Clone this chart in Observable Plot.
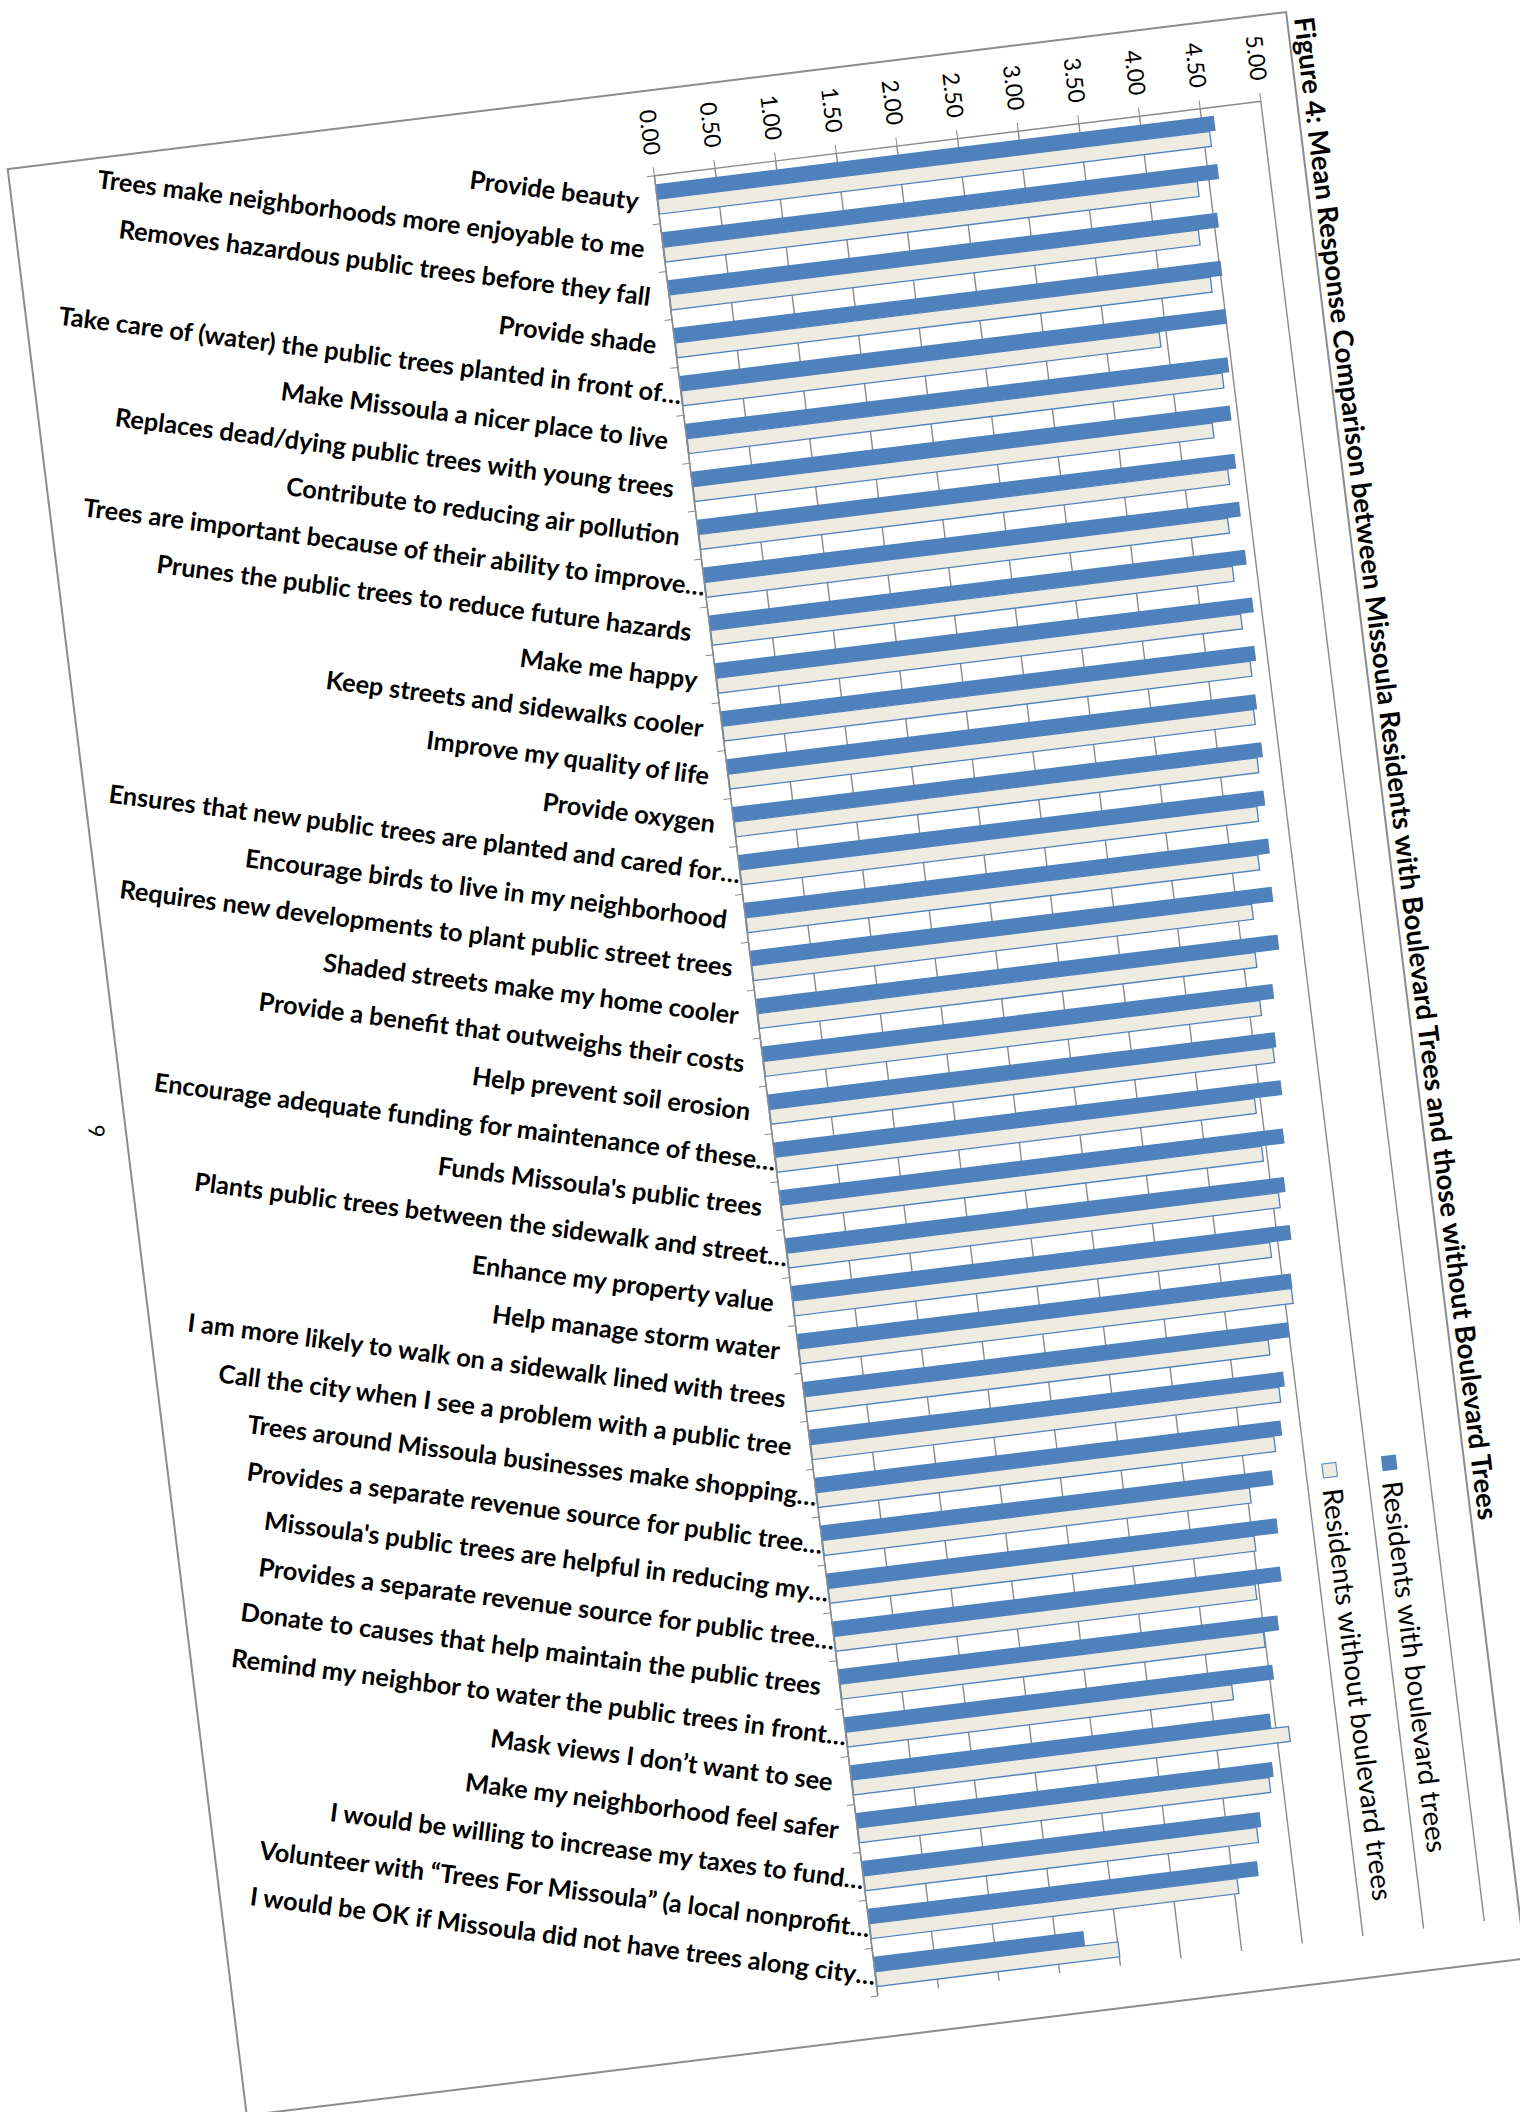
<!DOCTYPE html>
<html>
<head>
<meta charset="utf-8">
<script src="https://cdn.jsdelivr.net/npm/d3@7"></script>
<script src="https://cdn.jsdelivr.net/npm/@observablehq/plot@0.6"></script>
<style>
  html, body { margin: 0; padding: 0; width: 1520px; height: 2112px; overflow: hidden; background: #fff; }
  /* The printed page is set sideways, so the whole chart is laid out as a
     column chart and turned onto the sheet. */
  #page { position: absolute; left: 0; top: 0; width: 1963px; height: 1290px;
          transform-origin: 0 0; transform: translate(1287px, 11px) rotate(83deg); }
  #chart { position: absolute; left: 0; top: 0; }
  #frame { position: absolute; left: 0; top: 0; width: 1963px; height: 1290px;
           box-sizing: border-box; border: 2px solid #8c8c8c; pointer-events: none; }
  #title { position: absolute; left: 8px; top: -30px; white-space: nowrap;
           font: bold 27.6px/27.6px Lato, sans-serif; color: #000; }
  .key { position: absolute; left: 1446px; white-space: nowrap;
         font: 27.8px/28px Lato, sans-serif; color: #000; }
  .key .sw { display: inline-block; box-sizing: border-box; width: 15px; height: 15px;
             margin-right: 11px; vertical-align: 2px; }
  #pageno { position: absolute; left: 957px; top: 1307px; width: 20px; text-align: center;
            font: 22px/22px Lato, sans-serif; color: #000; }
</style>
</head>
<body>
<div id="page">
  <div id="title"></div>
  <div id="chart"></div>
  <div id="frame"></div>
  <div class="key" id="keyWith" style="top:61px"><span class="sw" style="background:#4f81bd"></span><span class="txt"></span></div>
  <div class="key" id="keyWithout" style="top:121px"><span class="sw" style="background:#eeece1;border:1.3px solid #4f81bd"></span><span class="txt"></span></div>
  <div id="pageno">9</div>
</div>
<script>
// Survey statements, in the order they are plotted
const statements = [
  "Provide beauty",
  "Trees make neighborhoods more enjoyable to me",
  "Removes hazardous public trees before they fall",
  "Provide shade",
  "Take care of (water) the public trees planted in front of…",
  "Make Missoula a nicer place to live",
  "Replaces dead/dying public trees with young trees",
  "Contribute to reducing air pollution",
  "Trees are important because of their ability to improve…",
  "Prunes the public trees to reduce future hazards",
  "Make me happy",
  "Keep streets and sidewalks cooler",
  "Improve my quality of life",
  "Provide oxygen",
  "Ensures that new public trees are planted and cared for…",
  "Encourage birds to live in my neighborhood",
  "Requires new developments to plant public street trees",
  "Shaded streets make my home cooler",
  "Provide a benefit that outweighs their costs",
  "Help prevent soil erosion",
  "Encourage adequate funding for maintenance of these…",
  "Funds Missoula's public trees",
  "Plants public trees between the sidewalk and street…",
  "Enhance my property value",
  "Help manage storm water",
  "I am more likely to walk on a sidewalk lined with trees",
  "Call the city when I see a problem with a public tree",
  "Trees around Missoula businesses make shopping…",
  "Provides a separate revenue source for public tree…",
  "Missoula's public trees are helpful in reducing my…",
  "Provides a separate revenue source for public tree…",
  "Donate to causes that help maintain the public trees",
  "Remind my neighbor to water the public trees in front…",
  "Mask views I don’t want to see",
  "Make my neighborhood feel safer",
  "I would be willing to increase my taxes to fund…",
  "Volunteer with “Trees For Missoula” (a local nonprofit…",
  "I would be OK if Missoula did not have trees along city…"
];

// Mean response, residents with boulevard trees
const withTrees = [
  4.60, 4.58, 4.53, 4.51, 4.50, 4.47, 4.44, 4.43, 4.42, 4.42,
  4.43, 4.40, 4.36, 4.36, 4.33, 4.32, 4.30, 4.30, 4.21, 4.18,
  4.18, 4.15, 4.11, 4.11, 4.07, 4.00, 3.91, 3.84, 3.72, 3.71,
  3.69, 3.62, 3.53, 3.46, 3.43, 3.28, 3.21, 1.73
];

// Mean response, residents without boulevard trees
const withoutTrees = [
  4.55, 4.40, 4.36, 4.41, 3.94, 4.41, 4.28, 4.36, 4.31, 4.30,
  4.32, 4.35, 4.33, 4.31, 4.26, 4.22, 4.12, 4.10, 4.09, 4.15,
  3.95, 3.96, 4.05, 3.93, 4.06, 3.82, 3.86, 3.77, 3.52, 3.51,
  3.47, 3.49, 3.18, 3.60, 3.39, 3.24, 3.03, 2.00
];

const valueTicks = [0, 0.5, 1, 1.5, 2, 2.5, 3, 3.5, 4, 4.5, 5];

const seriesNames = ["Residents with boulevard trees", "Residents without boulevard trees"];
const titleText = "Figure 4: Mean Response Comparison between Missoula Residents with Boulevard Trees and those without Boulevard Trees";

const idx = d3.range(statements.length);
const blue = "#4f81bd", tan = "#eeece1", axisGray = "#8a8a8a";

// Truncated names keep their text flush with the axis; the ellipsis hangs past it.
const ELLIPSIS = "…";
const clipped = idx.filter(i => statements[i].endsWith(ELLIPSIS));
const nameOptions = {tickSize: 0, tickPadding: 19, tickRotate: -75.7, lineAnchor: "middle",
                     fontSize: 25.3, fontWeight: "bold", fill: "#000", label: null};

const chart = Plot.plot({
  width: 1963,
  height: 1290,
  marginLeft: 86,
  marginRight: 43,
  marginTop: 36.5,
  marginBottom: 642.5,
  x: {type: "linear", domain: [0, statements.length]},
  y: {domain: [0, 5]},
  style: {fontFamily: "Lato, sans-serif", background: "transparent", overflow: "visible", color: "#000"},
  marks: [
    Plot.gridY({ticks: valueTicks, stroke: axisGray, strokeOpacity: 1, strokeWidth: 1.4}),
    // paired columns: "with" on the left half of each slot, "without" on the right half
    Plot.rect(idx, {x1: i => i + 0.189, x2: i => i + 0.5, y1: 0, y2: i => withTrees[i], fill: blue}),
    Plot.rect(idx, {x1: i => i + 0.5, x2: i => i + 0.811, y1: 0, y2: i => withoutTrees[i],
                    fill: tan, stroke: blue, strokeWidth: 1.3}),
    Plot.ruleY([0], {stroke: axisGray, strokeWidth: 1.4}),
    Plot.ruleX([0], {stroke: axisGray, strokeWidth: 1.4}),
    Plot.axisY({ticks: valueTicks, tickFormat: d => d.toFixed(2), tickSize: 8, tickPadding: 13,
                fontSize: 23, stroke: axisGray, fill: "#000", label: null}),
    // category tick marks sit on the slot boundaries
    Plot.axisX({ticks: d3.range(statements.length + 1), tickSize: 8, tickFormat: () => "",
                stroke: axisGray, label: null}),
    // category names, centred on each slot
    Plot.axisX({...nameOptions, ticks: idx.map(i => i + 0.5), textAnchor: "end",
                tickFormat: t => statements[Math.floor(t)].replace(/…$/, "")}),
    Plot.axisX({...nameOptions, ticks: clipped.map(i => i + 0.5), textAnchor: "start",
                tickFormat: () => ELLIPSIS})
  ]
});
document.getElementById("chart").appendChild(chart);

document.getElementById("title").textContent = titleText;
document.querySelector("#keyWith .txt").textContent = seriesNames[0];
document.querySelector("#keyWithout .txt").textContent = seriesNames[1];
</script>
</body>
</html>
